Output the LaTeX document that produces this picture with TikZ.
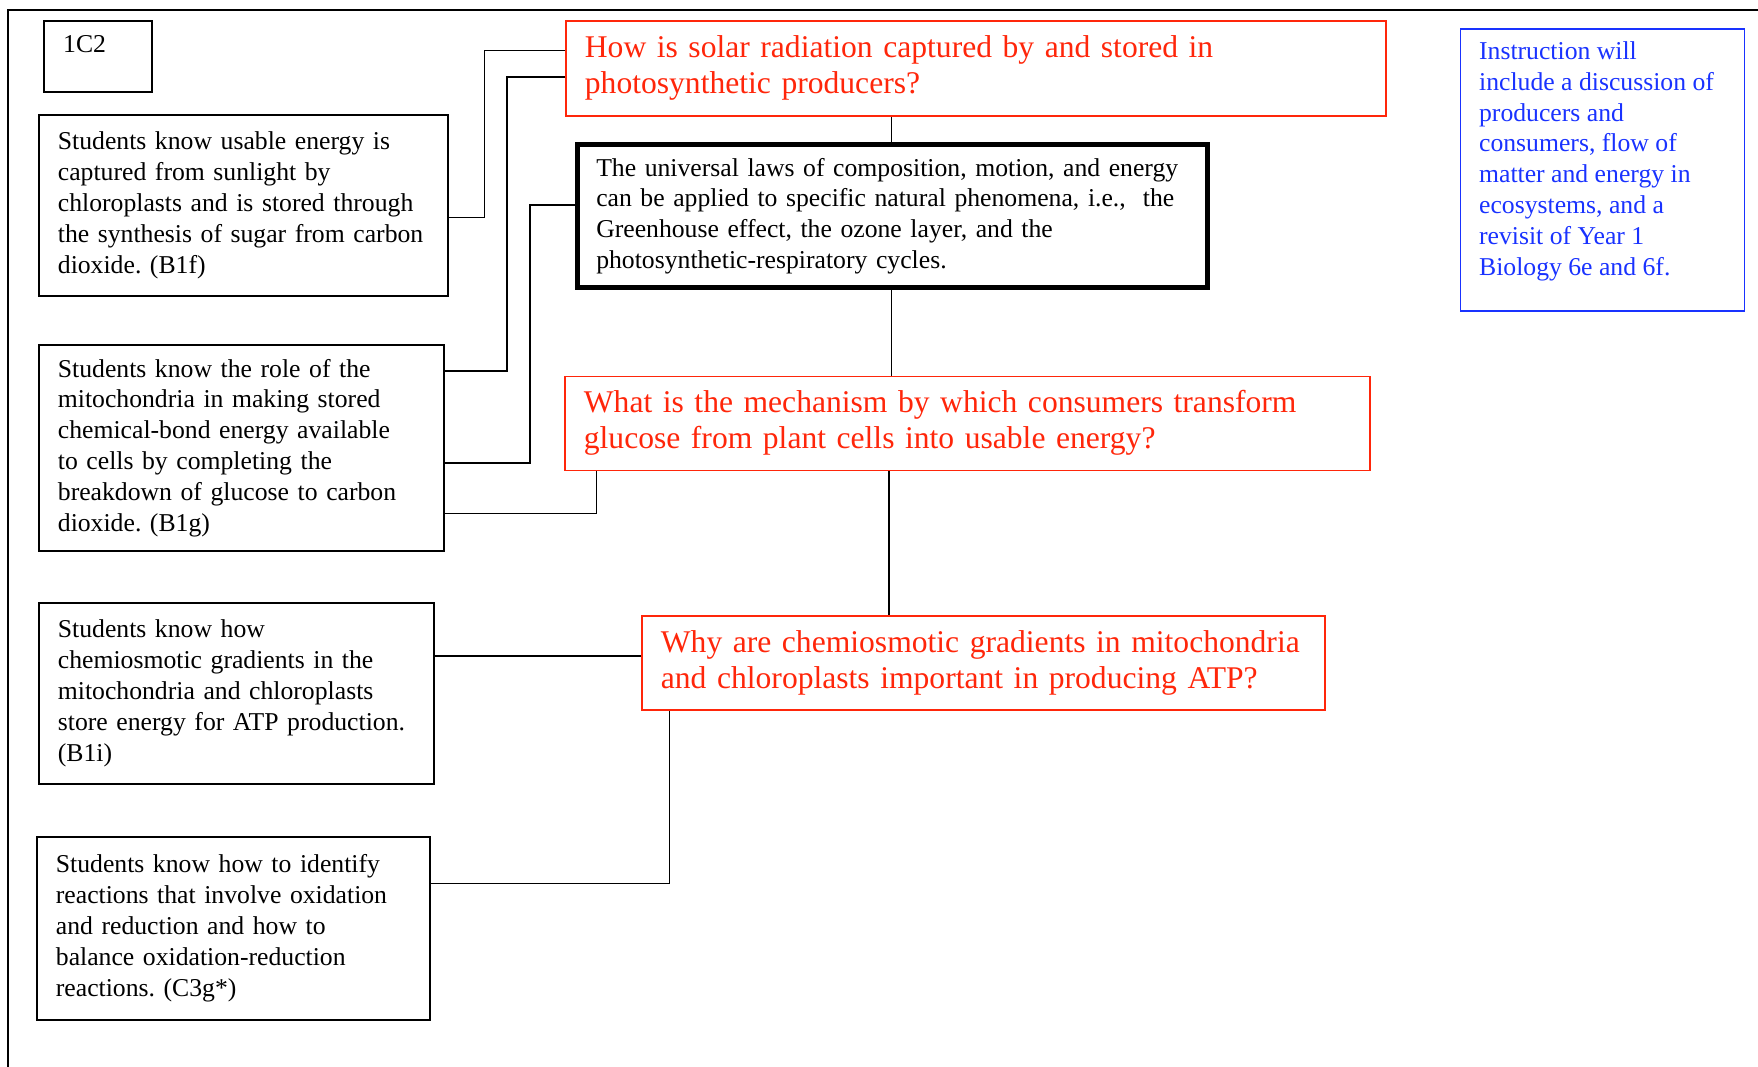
\documentclass[tikz,border=0pt]{standalone}
\usepackage{fontspec}
\setmainfont{Liberation Serif}
\definecolor{qred}{RGB}{255,38,10}
\definecolor{iblue}{RGB}{25,50,255}
\newcommand{\mylines}[1]{\begin{tabular}{@{}l@{}}#1\end{tabular}}
\frenchspacing
\begin{document}
\frenchspacing
\begin{tikzpicture}[x=1pt,y=-1pt,
  box/.style={draw, line width=1.8pt, anchor=north west, inner xsep=19pt, inner ysep=0pt,
    align=left, font=\fontsize{25.7}{30.8}\selectfont},
  qbox/.style={box, draw=qred, text=qred, font=\fontsize{31.6}{36}\selectfont},
  ibox/.style={draw, line width=1.8pt, anchor=north west, draw=iblue},
  conn/.style={line width=1.8pt}]
\useasboundingbox (0,0) rectangle (1758,1067);
% frame
\draw[line width=2pt] (8,1067) -- (8,10) -- (1758,10);
% tag box
\node[draw, line width=1.8pt, anchor=north west, minimum width=108pt, minimum height=71pt] (tag) at (43,20) {};
\node[anchor=base west, inner sep=0pt, font=\fontsize{25.7}{30.8}\selectfont] (tagtext) at (63,53) {1C2};
% standards boxes
\node[box, text width=371pt, minimum height=181pt] (b1f) at (38,114)
  {\mylines{Students know usable energy is\\captured from sunlight by\\chloroplasts and is stored through\\the synthesis of sugar from carbon\\dioxide. (B1f)}};
\node[box, text width=367pt, minimum height=206pt] (b1g) at (38,344)
  {\mylines{Students know the role of the\\mitochondria in making stored\\chemical-bond energy available\\to cells by completing the\\breakdown of glucose to carbon\\dioxide. (B1g)}};
\node[box, text width=357pt, minimum height=181pt] (b1i) at (38,602)
  {\mylines{Students know how\\chemiosmotic gradients in the\\mitochondria and chloroplasts\\store energy for ATP production.\\(B1i)}};
\node[box, text width=355pt, minimum height=183pt] (c3g) at (36,836)
  {\mylines{Students know how to identify\\reactions that involve oxidation\\and reduction and how to\\balance oxidation-reduction\\reactions. (C3g*)}};
% questions
\node[qbox, text width=782pt, minimum height=95pt] (q1) at (565,20)
  {\mylines{How is solar radiation captured by and stored in\\photosynthetic producers?}};
\node[box, line width=5.5pt, text width=592pt, minimum height=143pt] (central) at (574.5,141.8)
  {\mylines{The universal laws of composition, motion, and energy\\can be applied to specific natural phenomena, i.e.,~ the\\Greenhouse effect, the ozone layer, and the\\photosynthetic-respiratory cycles.}};
\node[qbox, text width=767pt, minimum height=94pt] (q2) at (564,375.5)
  {\mylines{What is the mechanism by which consumers transform\\glucose from plant cells into usable energy?}};
\node[qbox, text width=645pt, minimum height=94pt] (q3) at (641,615.4)
  {\mylines{Why are chemiosmotic gradients in mitochondria\\and chloroplasts important in producing ATP?}};
% instruction box
\node[ibox, minimum width=284pt, minimum height=282pt] (instr) at (1459.5,27.8) {};
\node[anchor=north west, inner sep=0pt, text=iblue, font=\fontsize{25.7}{30.8}\selectfont] (instrtext) at (1478.9,37.8)
  {\mylines{Instruction will\\include a discussion of\\producers and\\consumers, flow of\\matter and energy in\\ecosystems, and a\\revisit of Year 1\\Biology 6e and 6f.}};
% helper coordinates
\coordinate (r1) at (0,217.5);
\coordinate (e1) at (484.4,50.5);
\coordinate (r2) at (0,371.1);
\coordinate (e2) at (506.8,77.4);
\coordinate (r3) at (0,463.1);
\coordinate (e3) at (530.3,205.2);
\coordinate (r4) at (0,513.5);
\coordinate (e4) at (596.5,0);
\coordinate (xa) at (891.4,0);
\coordinate (xb) at (889.1,0);
\coordinate (r8) at (0,655.9);
\coordinate (r9) at (0,883.5);
\coordinate (e9) at (669.4,0);
% connectors
\draw[conn] (b1f.east |- r1) -| (e1) -- (q1.west |- e1);
\draw[conn] (b1g.east |- r2) -| (e2) -- (q1.west |- e2);
\draw[conn] (b1g.east |- r3) -| (e3) -- (central.west |- e3);
\draw[conn] (b1g.east |- r4) -| (q2.south -| e4);
\draw[conn] (q1.south -| xa) -- (central.north -| xa);
\draw[conn] (central.south -| xa) -- (q2.north -| xa);
\draw[conn] (q2.south -| xb) -- (q3.north -| xb);
\draw[conn] (b1i.east |- r8) -- (q3.west |- r8);
\draw[conn] (c3g.east |- r9) -| (q3.south -| e9);
\end{tikzpicture}
\end{document}
